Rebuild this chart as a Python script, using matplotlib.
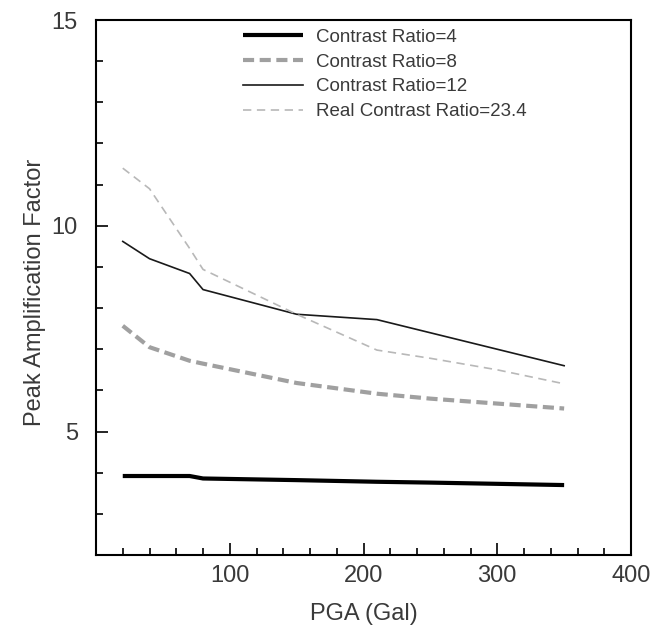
import matplotlib
matplotlib.use('Agg')
import matplotlib.pyplot as plt
from matplotlib.ticker import MultipleLocator, FixedLocator

plt.rcParams['font.family'] = ['Liberation Sans', 'DejaVu Sans']
plt.rcParams['lines.scale_dashes'] = False

# PGA (Gal)
pga = [20, 40, 70, 80, 150, 210, 250, 300, 350]

# peak amplification factor for each contrast ratio
ratio_4 = [3.92, 3.92, 3.92, 3.86, 3.82, 3.78, 3.76, 3.73, 3.70]
ratio_8 = [7.57, 7.05, 6.72, 6.65, 6.18, 5.92, 5.80, 5.68, 5.56]
ratio_12 = [9.62, 9.20, 8.84, 8.45, 7.85, 7.72, 7.40, 7.00, 6.60]
ratio_real = [11.40, 10.90, 9.45, 8.94, 7.85, 6.98, 6.78, 6.50, 6.16]

labels = ['Contrast Ratio=4', 'Contrast Ratio=8',
          'Contrast Ratio=12', 'Real Contrast Ratio=23.4']

txt = '#3a3a3a'

fig = plt.figure(figsize=(6.7, 6.29), dpi=100)
ax = fig.add_axes([0.1433, 0.1176, 0.7985, 0.8506])

ax.plot(pga, ratio_4, color='black', lw=3.0, solid_capstyle='butt', label=labels[0])
ax.plot(pga, ratio_8, color='#a0a0a0', lw=3.0, dashes=(8, 4), dash_capstyle='butt', label=labels[1])
ax.plot(pga, ratio_12, color='#1a1a1a', lw=1.2, label=labels[2])
ax.plot(pga, ratio_real, color='#b8b8b8', lw=1.2, dashes=(6, 4), label=labels[3])

ax.set_xlim(0, 400)
ax.set_ylim(2, 15)
ax.xaxis.set_major_locator(FixedLocator([100, 200, 300, 400]))
ax.xaxis.set_minor_locator(MultipleLocator(20))
ax.yaxis.set_major_locator(FixedLocator([5, 10, 15]))
ax.yaxis.set_minor_locator(MultipleLocator(1))

ax.tick_params(which='both', direction='in', width=1.2, colors='black', labelcolor=txt, labelsize=17)
ax.tick_params(which='major', length=8.5)
ax.tick_params(which='minor', length=4.7)
ax.tick_params(axis='x', pad=7)
ax.tick_params(axis='y', pad=13)
for s in ax.spines.values():
    s.set_linewidth(1.5)

ax.set_xlabel('PGA (Gal)', fontsize=17, color=txt)
ax.set_ylabel('Peak Amplification Factor', fontsize=17, color=txt)
ax.xaxis.set_label_coords(0.5, -0.09)
ax.yaxis.set_label_coords(-0.093, 0.49)

leg = ax.legend(loc='upper left', bbox_to_anchor=(0.275, 0.984), frameon=False,
                fontsize=13.5, handlelength=3.2, handletextpad=0.7,
                labelspacing=0.41, borderpad=0, borderaxespad=0)
for t in leg.get_texts():
    t.set_color(txt)

fig.savefig('out.png', dpi=100)
